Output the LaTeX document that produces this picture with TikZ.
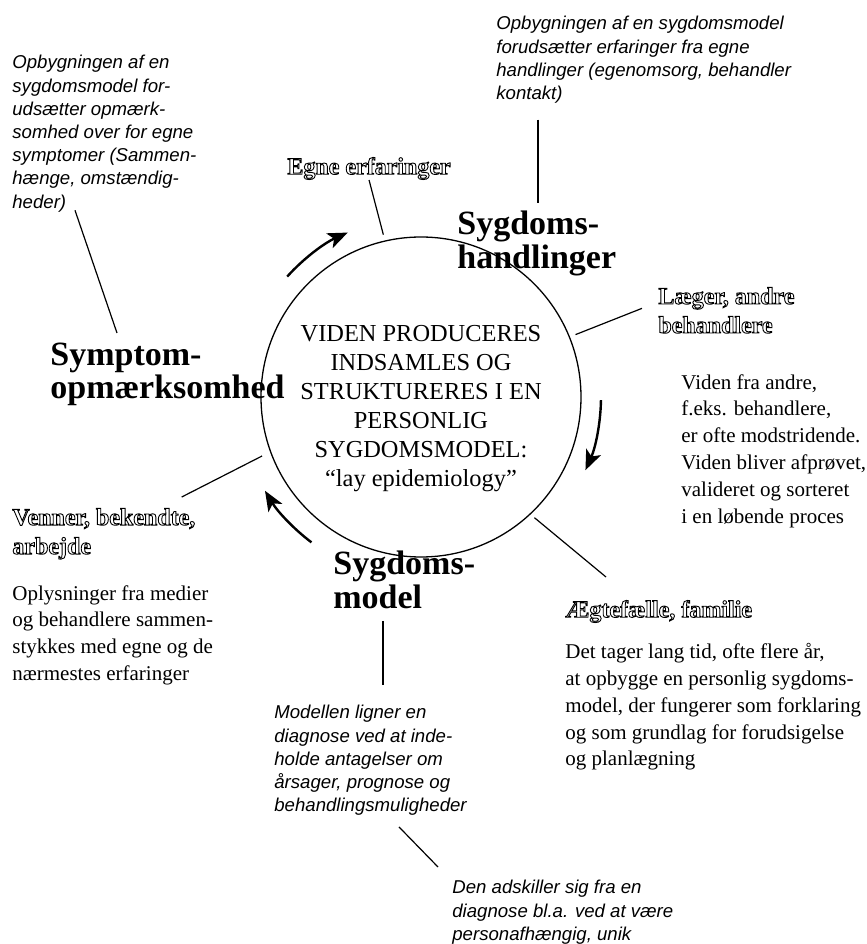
\documentclass[tikz,border=0pt]{standalone}
\usepackage{fontspec}
\setmainfont{Liberation Serif}
\newfontfamily\notefont{Liberation Sans}
\usetikzlibrary{arrows.meta}

\newcommand{\hollow}[1]{\special{pdf:literal direct 1 Tr 0.45 w}#1\special{pdf:literal direct 0 Tr}}

\begin{document}
\begin{tikzpicture}[x=0.5pt,y=0.5pt,
   note/.style={anchor=north west,inner sep=0pt,align=left,
      font=\notefont\itshape\fontsize{9.3}{11.6}\selectfont},
   body/.style={anchor=north west,inner sep=0pt,align=left,
      font=\fontsize{10.5}{13.4}\selectfont},
   head/.style={anchor=north west,inner sep=0pt,align=left,
      font=\bfseries\fontsize{17}{15}\selectfont},
   tag/.style={anchor=north west,inner sep=0pt,align=left,
      font=\bfseries\fontsize{12}{14.5}\selectfont},
   lead/.style={line width=0.6pt},
   cyc/.style={line width=1.2pt,-{Stealth[length=10pt,width=8pt,inset=2.5pt]}}]
   \useasboundingbox (0,0) rectangle (867,944);

   \node[circle,draw,line width=0.65pt,minimum size=160pt,inner sep=0pt] (core) at (421,547) {};
   \node[anchor=north,inner sep=0pt,align=center,font=\fontsize{12.2}{14.5}\selectfont] (coretext) at (421,619)
      {VIDEN PRODUCERES\\INDSAMLES OG\\STRUKTURERES I EN\\PERSONLIG\\SYGDOMSMODEL:\\“lay epidemiology”};

   % the three stages
   \node[head] (headsym) at (50,601) {Symptom-\\opmærksomhed};
   \node[head] (headhand) at (457,733) {Sygdoms-\\handlinger};
   \node[head] (headmod) at (333,393) {Sygdoms-\\model};

   % sources
   \node[tag] (tagegne) at (287,787) {\hollow{Egne erfaringer}};
   \node[tag] (taglaeg) at (658,657) {\hollow{Læger, andre}\\\hollow{behandlere}};
   \node[tag] (tagvenner) at (12,436) {\hollow{Venner, bekendte,}\\\hollow{arbejde}};
   \node[tag] (tagaegte) at (565,344) {\hollow{Ægtefælle, familie}};

   % comments
   \node[note] (notesym) at (12,889) {Opbygningen af en\\sygdomsmodel for-\\udsætter opmærk-\\somhed over for egne\\symptomer (Sammen-\\hænge, omstændig-\\heder)};
   \node[note] (notehand) at (496,928) {Opbygningen af en sygdomsmodel\\forudsætter erfaringer fra egne\\handlinger (egenomsorg, behandler\\kontakt)};
   \node[note] (notemod) at (274,239) {Modellen ligner en\\diagnose ved at inde-\\holde antagelser om\\årsager, prognose og\\behandlingsmuligheder};
   \node[note] (noteden) at (452,64) {Den adskiller sig fra en\\diagnose bl.a. ved at være\\personafhængig, unik};

   \node[body] (bodyviden) at (681,570) {Viden fra andre,\\f.eks. behandlere,\\er ofte modstridende.\\Viden bliver afprøvet,\\valideret og sorteret\\i en løbende proces};
   \node[body] (bodyoplys) at (12,359) {Oplysninger fra medier\\og behandlere sammen-\\stykkes med egne og de\\nærmestes erfaringer};
   \node[body] (bodydet) at (565,301) {Det tager lang tid, ofte flere år,\\at opbygge en personlig sygdoms-\\model, der fungerer som forklaring\\og som grundlag for forudsigelse\\og planlægning};

   % leader lines
   \draw[lead] ([shift={(63,2)}]notesym.south west) -- ([shift={(67,10)}]headsym.north west);
   \draw[lead] ([shift={(42,-16)}]notehand.south west) -- ([shift={(81,8)}]headhand.north west);
   \draw[lead] ([shift={(50,-12)}]headmod.south west) -- ([shift={(109,20)}]notemod.north west);
   \draw[lead] ([shift={(125,-11)}]notemod.south west) -- ([shift={(-14,13)}]noteden.north west);
   \draw[lead,shorten >=3pt] (tagegne.south) -- (core.103);
   \draw[lead,shorten >=3pt] ([shift={(-16,2)}]taglaeg.west) -- (core.22);
   \draw[lead,shorten >=4.5pt] ([shift={(-14,11)}]tagvenner.north east) -- (core.200);
   \draw[lead,shorten >=2.5pt] ([shift={(41,23)}]tagaegte.north west) -- (core.-47);

   % direction of the cycle
   \draw[cyc] (core.center) ++(138:180) arc[start angle=138,end angle=114,radius=180];
   \draw[cyc] (core.center) ++(-1:180) arc[start angle=-1,end angle=-24,radius=180];
   \draw[cyc] (core.center) ++(233:182) arc[start angle=233,end angle=211,radius=182];
\end{tikzpicture}
\end{document}
